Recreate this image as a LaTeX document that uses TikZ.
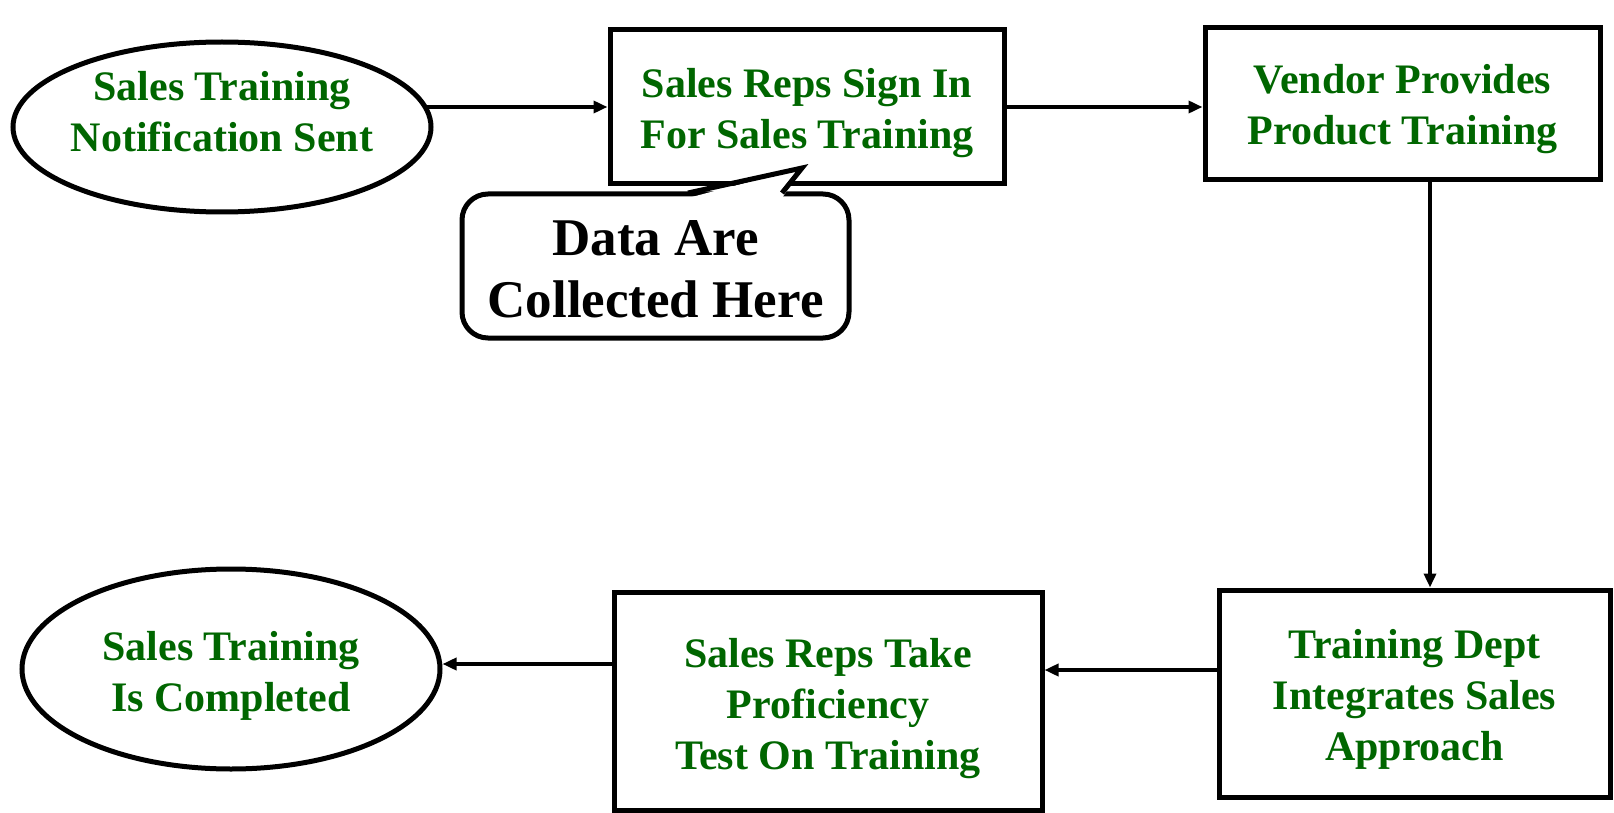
\documentclass[tikz,border=0pt]{standalone}
\usepackage{fontspec}
\setmainfont{Liberation Serif}
\usetikzlibrary{shapes.geometric,arrows.meta}
\definecolor{txtgreen}{RGB}{0,102,0}
\begin{document}
\begin{tikzpicture}[x=1pt,y=-1pt,
  gtext/.style={text=txtgreen,align=center,inner sep=0pt,font=\fontsize{42}{51}\selectfont\bfseries},
  stepbox/.style={draw=black,line width=5pt,rectangle,inner sep=0pt,fill=white},
  termnode/.style={draw=black,line width=5pt,ellipse,inner sep=0pt},
  arr/.style={line width=3.6pt,-{Triangle[length=14pt,width=12pt]}}]
\useasboundingbox (0,0) rectangle (1614,813);
\node[termnode,minimum width=418pt,minimum height=170pt] (e1) at (222,127) {};
\node[stepbox,minimum width=394pt,minimum height=154pt] (b2) at (807,107) {};
\node[stepbox,minimum width=395pt,minimum height=152pt] (b3) at (1402.5,104) {};
\node[stepbox,minimum width=391pt,minimum height=207pt] (b4) at (1414.5,693.5) {};
\node[stepbox,minimum width=428pt,minimum height=218pt] (b5) at (828,701.5) {};
\node[termnode,minimum width=418pt,minimum height=200pt] (e2) at (231,669) {};
\node[gtext] (te1) at ([yshift=15pt]e1.center) {Sales Training\\Notification Sent};
\node[gtext] (tb2) at ([yshift=-6pt]b2.center) {Sales Reps Sign In\\For Sales Training};
\node[gtext] (tb3) at ([yshift=-5.5pt]b3.center) {Vendor Provides\\Product Training};
\node[gtext] (tb4) at ([yshift=-6pt]b4.center) {Training Dept\\Integrates Sales\\Approach};
\node[gtext] (tb5) at ([yshift=-7.5pt]b5.center) {Sales Reps Take\\Proficiency\\ Test On Training};
\node[gtext] (te2) at ([yshift=-7pt]e2.center) {Sales Training\\ Is Completed};
% callout
\node[draw=black,line width=5pt,rounded corners=26pt,fill=white,inner sep=0pt,
  minimum width=387pt,minimum height=144pt] (co) at (655.5,266) {};
\node[align=center,inner sep=0pt,font=\fontsize{53}{62}\selectfont\bfseries] (tco) at ([yshift=-3pt]co.center) {Data Are\\Collected Here};
\coordinate (tl) at (688,193);
\coordinate (tt) at (802,168);
\coordinate (tr) at (782,193);
\fill[white] ([yshift=-5pt]tl) -- (tt) -- ([yshift=-5pt]tr) -- cycle;
\draw[line width=5pt,line join=miter] (tl) -- (tt) -- (tr);
% connectors
\draw[arr] ([xshift=-7pt]e1.east |- b2.west) -- (b2.west);
\draw[arr] (b2.east) -- (b3.west |- b2.east);
\draw[arr] ([xshift=27.5pt]b3.south) -- ([xshift=27.5pt]b3.south |- b4.north);
\draw[arr] ([yshift=23.5pt]b4.west) -- ([yshift=23.5pt]b4.west -| b5.east);
\draw[arr] ([yshift=37.5pt]b5.west) -- ([yshift=37.5pt]b5.west -| e2.east);
\end{tikzpicture}
\end{document}
